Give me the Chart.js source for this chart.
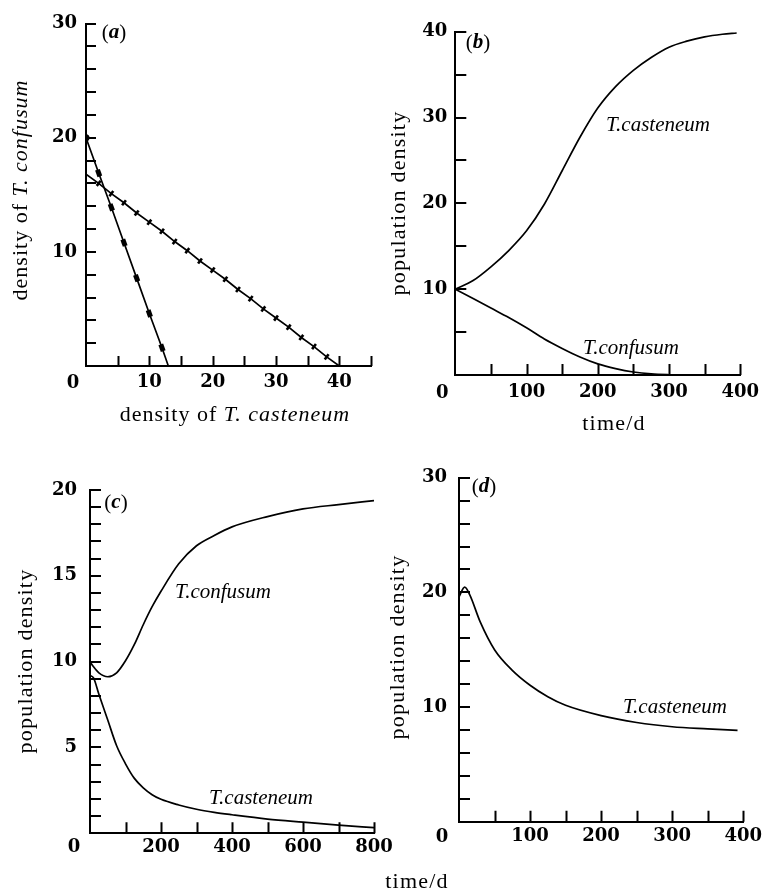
<!DOCTYPE html>
<html>
<head>
<meta charset="utf-8">
<script src="https://cdn.jsdelivr.net/npm/chart.js@4.4.0/dist/chart.umd.min.js"></script>
<style>
    html, body { margin: 0; padding: 0; background: #fff; }
    #wrap { position: relative; width: 766px; height: 891px; }
    #wrap canvas { position: absolute; left: 0; top: 0; }
</style>
</head>
<body>
<div id="wrap">
    <canvas id="chartA" width="766" height="891"></canvas>
    <canvas id="chartB" width="766" height="891"></canvas>
    <canvas id="chartC" width="766" height="891"></canvas>
    <canvas id="chartD" width="766" height="891"></canvas>
</div>
<script>
// ==================== DATA ====================

// (a) isoclines
const steepX = [0, 2, 4, 6, 8, 10, 12, 13];
const steepY = [20, 16.9, 13.9, 10.8, 7.7, 4.6, 1.6, 0];
const flatX = [0, 2, 4, 6, 8, 10, 12, 14, 16, 18, 20, 22, 24, 26, 28, 30, 32, 34, 36, 38, 40];
const flatY = [16.8, 16.0, 15.1, 14.3, 13.4, 12.6, 11.8, 10.9, 10.1, 9.2, 8.4, 7.6, 6.7, 5.9, 5.0, 4.2, 3.4, 2.5, 1.7, 0.8, 0];

// (b) T. casteneum wins
const timeB = [0, 25, 50, 75, 100, 125, 150, 175, 200, 225, 250, 275, 300, 325, 350, 375, 395];
const castB = [10, 11.0, 12.6, 14.5, 16.8, 19.9, 23.8, 27.7, 31.1, 33.6, 35.5, 37.0, 38.2, 38.9, 39.4, 39.7, 39.85];
const confB = [10, 8.9, 7.8, 6.7, 5.5, 4.2, 3.1, 2.1, 1.3, 0.75, 0.35, 0.12, 0.03, 0, 0, 0, 0];

// (c) T. confusum wins
const timeC = [0, 10, 25, 50, 75, 100, 125, 150, 175, 200, 250, 300, 350, 400, 500, 600, 700, 800];
const confC = [10, 9.7, 9.35, 9.12, 9.35, 10.05, 11.0, 12.15, 13.2, 14.1, 15.7, 16.75, 17.35, 17.85, 18.45, 18.9, 19.15, 19.38];
const castC = [9.2, 9.05, 8.1, 6.6, 5.1, 4.05, 3.2, 2.65, 2.25, 1.98, 1.65, 1.4, 1.22, 1.08, 0.83, 0.65, 0.48, 0.33];

// (d) T. casteneum alone
const timeD = [0, 8, 15, 30, 50, 75, 100, 125, 150, 200, 250, 300, 350, 392];
const castD = [19.6, 20.45, 19.8, 17.4, 15.0, 13.2, 11.9, 10.9, 10.15, 9.25, 8.65, 8.28, 8.1, 7.97];

// tick labels shown on each axis (0 is printed once at the corner)
const labelsAX = [10, 20, 30, 40];
const labelsAY = [10, 20, 30];
const labelsBX = [100, 200, 300, 400];
const labelsBY = [10, 20, 30, 40];
const labelsCX = [200, 400, 600, 800];
const labelsCY = [5, 10, 15, 20];
const labelsDX = [100, 200, 300, 400];
const labelsDY = [10, 20, 30];

// ==================== STYLE ====================
const SERIF = '"Liberation Serif", "DejaVu Serif", serif';
const TICK_FONT = { family: '"DejaVu Serif", serif', size: 18, weight: 'bold' };
const F_TITLE = '22px ' + SERIF;
const F_TITLE_IT = 'italic 22px ' + SERIF;
const F_LABEL_IT = 'italic 21px ' + SERIF;
const F_PANEL = '21px ' + SERIF;
const F_PANEL_IT = 'italic bold 21px ' + SERIF;
const Y_BOX = 70;   // room kept for y tick labels
const X_BOX = 40;   // room kept for x tick labels

const toXY = (xs, ys) => xs.map((x, i) => ({ x, y: ys[i] }));

// small filled bar used as marker on the steep isocline
function barMarker(w, h) {
    const c = document.createElement('canvas');
    c.width = w; c.height = h;
    const g = c.getContext('2d');
    g.fillStyle = '#000';
    g.fillRect(0, 0, w, h);
    return c;
}

// text made of several runs (normal / italic), centred on (x, y)
function drawParts(ctx, parts, x, y, rot, spacing) {
    ctx.save();
    ctx.translate(x, y);
    if (rot) ctx.rotate(rot * Math.PI / 180);
    ctx.textBaseline = 'middle';
    ctx.textAlign = 'left';
    ctx.fillStyle = '#000';
    if ('letterSpacing' in ctx) ctx.letterSpacing = spacing || '0px';
    let total = 0;
    parts.forEach(p => { ctx.font = p[1]; total += ctx.measureText(p[0]).width; });
    let cx = -total / 2;
    parts.forEach(p => {
        ctx.font = p[1];
        ctx.fillText(p[0], cx, 0);
        cx += ctx.measureText(p[0]).width;
    });
    ctx.restore();
}

// inner tick marks, corner "0" and all free text
function decoPlugin(spec) {
    return {
        id: 'deco',
        afterDraw(chart) {
            const ctx = chart.ctx;
            const { x, y } = chart.scales;
            const area = chart.chartArea;
            ctx.save();
            ctx.strokeStyle = '#000';
            ctx.lineWidth = 2;
            ctx.beginPath();
            x.ticks.forEach(t => {
                if (t.value === x.min) return;
                const px = Math.round(x.getPixelForValue(t.value)) + 0.5;
                ctx.moveTo(px, area.bottom);
                ctx.lineTo(px, area.bottom - spec.tickLen);
            });
            y.ticks.forEach(t => {
                if (t.value === y.min) return;
                const py = Math.round(y.getPixelForValue(t.value));
                ctx.moveTo(area.left, py);
                ctx.lineTo(area.left + spec.tickLen, py);
            });
            ctx.stroke();
            ctx.restore();

            ctx.save();
            ctx.font = 'bold 18px "DejaVu Serif", serif';
            ctx.fillStyle = '#000';
            ctx.textAlign = 'center';
            ctx.textBaseline = 'middle';
            ctx.fillText('0', x.getPixelForValue(0) + spec.zeroDx, spec.zeroY);
            ctx.restore();

            spec.texts.forEach(t => drawParts(ctx, t.parts, t.x, t.y, t.rot, t.spacing));
        }
    };
}

function lineSet(data, extra) {
    return Object.assign({
        data,
        borderColor: '#000',
        borderWidth: 1.7,
        pointRadius: 0,
        fill: false,
        cubicInterpolationMode: 'monotone'
    }, extra || {});
}

function makePanel(id, p) {
    const tickOpts = (ax) => ({
        stepSize: ax.step,
        autoSkip: false,
        maxRotation: 0,
        color: '#000',
        font: TICK_FONT,
        padding: ax.pad,
        callback: v => ax.labels.includes(v) ? String(v) : ''
    });
    return new Chart(document.getElementById(id).getContext('2d'), {
        type: 'line',
        data: { datasets: p.datasets },
        options: {
            responsive: false,
            animation: false,
            devicePixelRatio: 1,
            layout: {
                padding: {
                    left: p.area.left - Y_BOX,
                    top: p.area.top,
                    right: 766 - p.area.right,
                    bottom: 891 - p.area.bottom - X_BOX
                }
            },
            plugins: { legend: { display: false }, tooltip: { enabled: false } },
            scales: {
                x: {
                    type: 'linear',
                    min: p.x.min, max: p.x.max,
                    afterFit: s => { s.height = X_BOX; },
                    ticks: tickOpts(p.x),
                    grid: { display: false, drawTicks: false },
                    border: { display: true, color: '#000', width: 2 }
                },
                y: {
                    type: 'linear',
                    min: p.y.min, max: p.y.max,
                    afterFit: s => { s.width = Y_BOX; },
                    ticks: tickOpts(p.y),
                    grid: { display: false, drawTicks: false },
                    border: { display: true, color: '#000', width: 2 }
                }
            }
        },
        plugins: [decoPlugin(p.deco)]
    });
}

// ==================== PANEL (a) ====================
const bar = barMarker(5, 7);
makePanel('chartA', {
    area: { left: 86, right: 371, top: 23.5, bottom: 366 },
    x: { min: 0, max: 45, step: 5, labels: labelsAX, pad: 6 },
    y: { min: 0, max: 30, step: 2, labels: labelsAY, pad: 9 },
    datasets: [
        lineSet(toXY(steepX, steepY), {
            cubicInterpolationMode: 'default',
            tension: 0,
            pointStyle: steepX.map((v, i) => i === 0 ? 'circle' : bar),
            pointRadius: steepX.map((v, i) => i === steepX.length - 1 ? 0 : 3.5),
            pointRotation: -20,
            pointBackgroundColor: '#000',
            pointBorderColor: '#000',
            pointBorderWidth: 0
        }),
        lineSet(toXY(flatX, flatY), {
            cubicInterpolationMode: 'default',
            tension: 0,
            pointStyle: 'line',
            pointRadius: flatX.map((v, i) => (i === 0 || i === flatX.length - 1) ? 0 : 3.2),
            pointRotation: 127,
            pointBorderColor: '#000',
            pointBorderWidth: 2.6
        })
    ],
    deco: {
        tickLen: 10, zeroDx: -13, zeroY: 383,
        texts: [
            { parts: [['(', F_PANEL], ['a', F_PANEL_IT], [')', F_PANEL]], x: 114, y: 33 },
            { parts: [['density of ', F_TITLE], ['T. confusum', F_TITLE_IT]], x: 21, y: 190, rot: -90, spacing: '1px' },
            { parts: [['density of ', F_TITLE], ['T. casteneum', F_TITLE_IT]], x: 235, y: 415, spacing: '1px' }
        ]
    }
});

// ==================== PANEL (b) ====================
makePanel('chartB', {
    area: { left: 455.3, right: 743, top: 31.7, bottom: 375 },
    x: { min: 0, max: 400, step: 50, labels: labelsBX, pad: 7 },
    y: { min: 0, max: 40, step: 5, labels: labelsBY, pad: 8 },
    datasets: [lineSet(toXY(timeB, castB)), lineSet(toXY(timeB, confB))],
    deco: {
        tickLen: 11, zeroDx: -13, zeroY: 393,
        texts: [
            { parts: [['(', F_PANEL], ['b', F_PANEL_IT], [')', F_PANEL]], x: 478, y: 43 },
            { parts: [['population density', F_TITLE]], x: 399, y: 203, rot: -90, spacing: '1.2px' },
            { parts: [['time/d', F_TITLE]], x: 614, y: 424, spacing: '1.2px' },
            { parts: [['T.casteneum', F_LABEL_IT]], x: 658, y: 125 },
            { parts: [['T.confusum', F_LABEL_IT]], x: 631, y: 348 }
        ]
    }
});

// ==================== PANEL (c) ====================
makePanel('chartC', {
    area: { left: 90, right: 374, top: 490, bottom: 833.3 },
    x: { min: 0, max: 800, step: 100, labels: labelsCX, pad: 3 },
    y: { min: 0, max: 20, step: 1, labels: labelsCY, pad: 13 },
    datasets: [lineSet(toXY(timeC, confC)), lineSet(toXY(timeC, castC))],
    deco: {
        tickLen: 11, zeroDx: -16, zeroY: 847,
        texts: [
            { parts: [['(', F_PANEL], ['c', F_PANEL_IT], [')', F_PANEL]], x: 116, y: 503 },
            { parts: [['population density', F_TITLE]], x: 26, y: 661, rot: -90, spacing: '1.2px' },
            { parts: [['time/d', F_TITLE]], x: 417, y: 882, spacing: '1.2px' },
            { parts: [['T.confusum', F_LABEL_IT]], x: 223, y: 592 },
            { parts: [['T.casteneum', F_LABEL_IT]], x: 261, y: 798 }
        ]
    }
});

// ==================== PANEL (d) ====================
makePanel('chartD', {
    area: { left: 459, right: 745, top: 477.7, bottom: 821.7 },
    x: { min: 0, max: 400, step: 50, labels: labelsDX, pad: 4 },
    y: { min: 0, max: 30, step: 2, labels: labelsDY, pad: 12 },
    datasets: [lineSet(toXY(timeD, castD))],
    deco: {
        tickLen: 11, zeroDx: -17, zeroY: 837,
        texts: [
            { parts: [['(', F_PANEL], ['d', F_PANEL_IT], [')', F_PANEL]], x: 484, y: 487 },
            { parts: [['population density', F_TITLE]], x: 398, y: 647, rot: -90, spacing: '1.2px' },
            { parts: [['T.casteneum', F_LABEL_IT]], x: 675, y: 707 }
        ]
    }
});
</script>
</body>
</html>
